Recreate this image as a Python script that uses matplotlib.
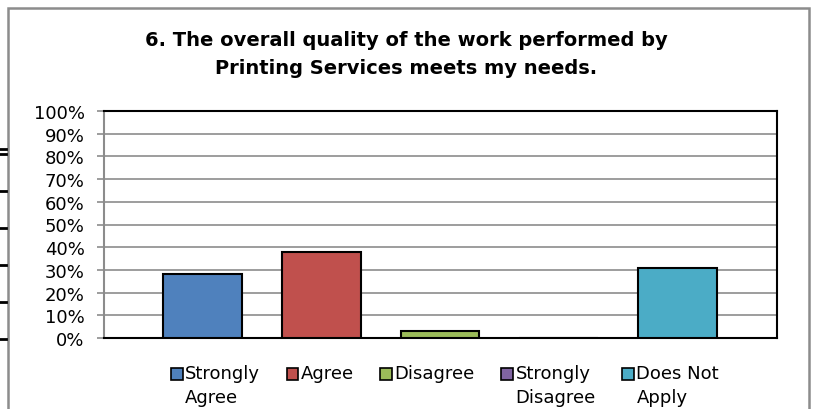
import numpy as np
import matplotlib.pyplot as plt
from matplotlib.patches import Patch, Rectangle
from matplotlib.lines import Line2D
from matplotlib.legend_handler import HandlerPatch
from matplotlib.ticker import MultipleLocator, PercentFormatter

plt.rcParams['font.family'] = ['DejaVu Sans']

title = "6. The overall quality of the work performed by\nPrinting Services meets my needs."
series = ["Strongly\nAgree", "Agree", "Disagree", "Strongly\nDisagree", "Does Not\nApply"]
values = [28, 38, 3, 0, 31]
colors = ["#4F81BD", "#C0504D", "#9BBB59", "#8064A2", "#4BACC6"]

W, H = 822, 410
fig = plt.figure(figsize=(W / 100, H / 100), dpi=100)

# outer chart border
fig.patches.append(Rectangle((8 / W, -0.05), 801 / W, 1 - 9 / H + 0.05,
                             transform=fig.transFigure, fill=False,
                             edgecolor="#8c8c8c", linewidth=1.8))
# stray lines at the left edge (table behind the chart)
for yy in [150, 155, 192, 229, 266, 303, 340]:
    fig.lines.append(Line2D([0, 6 / W], [1 - yy / H, 1 - yy / H],
                            transform=fig.transFigure, color="black", linewidth=2))

ax = fig.add_axes([104 / W, 1 - 339 / H, (777 - 104) / W, (339 - 112) / H])
x = np.arange(len(series))
ax.bar(x, values, width=0.664, color=colors, edgecolor="black", linewidth=1.5, zorder=3)
ax.set_xlim(-0.828, 4.836)
ax.set_ylim(0, 100)
ax.yaxis.set_major_locator(MultipleLocator(10))
ax.yaxis.set_major_formatter(PercentFormatter(decimals=0))
ax.grid(axis="y", color="#8c8c8c", linewidth=1.2, zorder=0)
ax.set_xticks([])
ax.tick_params(axis="y", labelsize=13, length=5, color="#8c8c8c", width=1.2, pad=9)
for s in ["top", "right", "bottom"]:
    ax.spines[s].set_color("black")
    ax.spines[s].set_linewidth(1.5)
ax.spines["left"].set_color("#8c8c8c")
ax.spines["left"].set_linewidth(1.5)

fig.text(406 / W, 1 - 55 / H, title, ha="center", va="center",
         fontsize=14, fontweight="bold", linespacing=1.6)


def top_square(legend, orig_handle, xdescent, ydescent, width, height, fontsize):
    # square sits next to the first line of a wrapped label
    return Rectangle((-xdescent, -ydescent + 0.66 * fontsize), width, height)


# pad one-line labels so every label sits on the top row
labels = [s if "\n" in s else s + "\n " for s in series]
handles = [Patch(facecolor=c, edgecolor="black", linewidth=1.2) for c in colors]
leg = fig.legend(handles, labels, loc="upper center", bbox_to_anchor=(445 / W, 1 - 356 / H),
                 ncol=5, frameon=False, fontsize=13, handlelength=0.65, handleheight=0.65,
                 handletextpad=0.15, columnspacing=1.45, labelspacing=0.1, borderpad=0,
                 handler_map={Patch: HandlerPatch(patch_func=top_square)})
for t in leg.get_texts():
    t.set_linespacing(1.4)

fig.savefig("out.png", dpi=100)
